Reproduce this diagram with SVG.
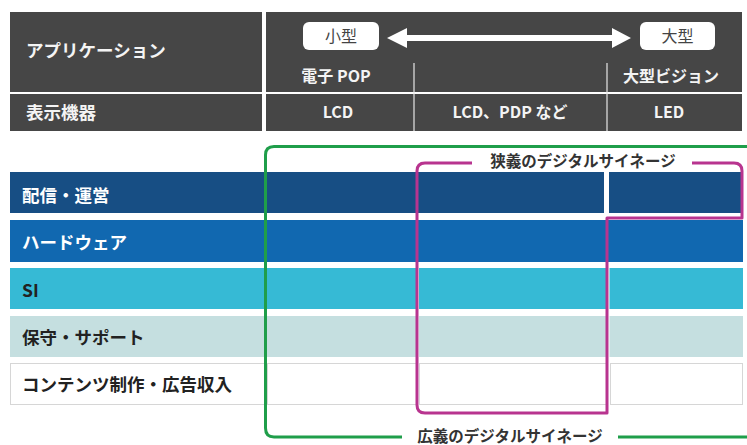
<svg xmlns="http://www.w3.org/2000/svg" width="747" height="445" viewBox="0 0 747 445">
<style>
text{font-family:"Noto Sans CJK JP","Noto Sans",sans-serif}
.hd{fill:#464646}
.ht{fill:#f4f4f4;font-size:16px;font-weight:bold}
.hl{fill:#f4f4f4;font-size:17.5px;font-weight:bold}
.rl{font-size:17.5px;font-weight:bold}
.vl{stroke:#e6e6e6;stroke-width:1.2}
.c5{fill:#fff;stroke:#d6d6d6;stroke-width:1}
.br{fill:none;stroke-width:3;stroke-linejoin:round}
.bt{font-size:15.5px;font-weight:bold;fill:#333}
</style>
<rect width="747" height="445" fill="#fff"/>
<g id="header">
<rect class="hd" x="10" y="12" width="252" height="80"/>
<rect class="hd" x="10" y="94" width="252" height="37"/>
<rect class="hd" x="266" y="12" width="476" height="80"/>
<rect class="hd" x="266" y="94" width="476" height="37"/>
<line class="vl" x1="414" y1="63" x2="414" y2="131"/>
<line class="vl" x1="607" y1="63" x2="607" y2="131"/>
<text class="hl" x="26" y="57">アプリケーション</text>
<text class="hl" x="26" y="119">表示機器</text>
<text class="ht" x="336" y="82" text-anchor="middle">電子 POP</text>
<text class="ht" x="671" y="82" text-anchor="middle" font-size="17">大型ビジョン</text>
<text class="ht" x="338" y="118" text-anchor="middle">LCD</text>
<text class="ht" x="510" y="118" text-anchor="middle" font-size="17">LCD、PDP など</text>
<text class="ht" x="669" y="118" text-anchor="middle">LED</text>
</g>
<g id="size-small">
<rect x="303" y="22" width="76" height="28" rx="6" fill="#fff"/>
<text x="341" y="42" text-anchor="middle" font-size="16" fill="#444">小型</text>
</g>
<g id="size-large">
<rect x="640" y="22" width="75" height="28" rx="6" fill="#fff"/>
<text x="677.5" y="42" text-anchor="middle" font-size="16" fill="#444">大型</text>
</g>
<g id="row1">
<rect x="10" y="172" width="255" height="41" fill="#174e84"/>
<rect x="267" y="172" width="337" height="41" fill="#174e84"/>
<rect x="609" y="172" width="134" height="41" fill="#174e84"/>
<text class="rl" x="22" y="202" fill="#fff">配信・運営</text>
</g>
<g id="row2">
<rect x="10" y="220" width="733" height="42" fill="#1168b0"/>
<text class="rl" x="22" y="249" fill="#fff">ハードウェア</text>
</g>
<g id="row3">
<rect x="10" y="268" width="733" height="41" fill="#36bad5"/>
<rect x="417" y="268" width="2" height="41" fill="#fff"/>
<rect x="607" y="268" width="2.5" height="41" fill="#fff"/>
<text class="rl" x="22" y="297" fill="#222">SI</text>
</g>
<g id="row4">
<rect x="10" y="316" width="733" height="41" fill="#c5dfe0"/>
<rect x="417" y="316" width="2" height="41" fill="#fff"/>
<rect x="607" y="316" width="2.5" height="41" fill="#fff"/>
<text class="rl" x="22" y="344" fill="#222">保守・サポート</text>
</g>
<g id="row5">
<rect class="c5" x="10.5" y="363.5" width="254" height="41"/>
<rect class="c5" x="267.5" y="363.5" width="149" height="41"/>
<rect class="c5" x="419.5" y="363.5" width="187" height="41"/>
<rect class="c5" x="610.5" y="363.5" width="132" height="41"/>
<text class="rl" x="22" y="391" fill="#222">コンテンツ制作・広告収入</text>
</g>
<g id="connectors">
<path d="M387 38 L407 28 L407 35 L612 35 L612 28 L631 38 L612 48 L612 41 L407 41 L407 48 Z" fill="#fff"/>
<path class="br" stroke="#1f9e4a" d="M747 146.5 L274 146.5 Q265.5 146.5 265.5 155 L265.5 428 Q265.5 437 274 437 L402 437 M618 437 L747 437"/>
<path class="br" stroke="#b8348f" d="M472 163 L425 163 Q417 163 417 171 L417 405 Q417 413 425 413 L607 413 L607 218 L742 218 L742 171 Q742 163 734 163 L692 163"/>
</g>
<g id="labels">
<text class="bt" x="583" y="167" text-anchor="middle">狭義のデジタルサイネージ</text>
<text class="bt" x="510" y="441.5" text-anchor="middle" font-size="16">広義のデジタルサイネージ</text>
</g>
</svg>
